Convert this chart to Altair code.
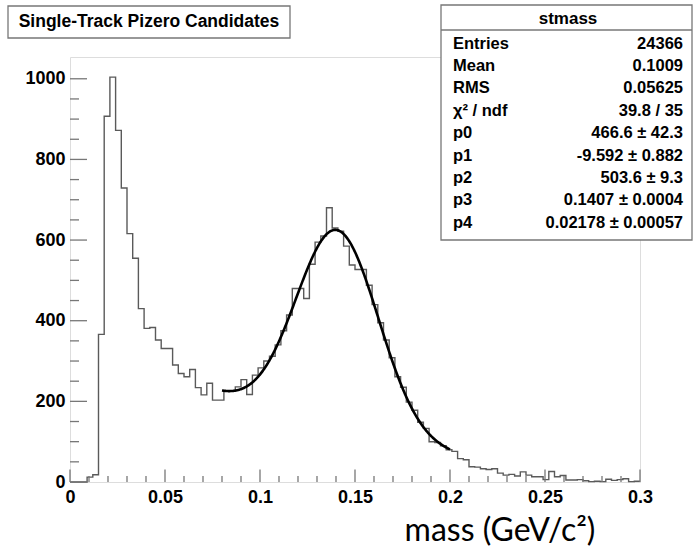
import altair as alt
import numpy as np
import pandas as pd

# ---------------- stmass histogram: 100 bins of 0.003 GeV/c^2 on [0, 0.3] ----------------
x_min, x_max, n_bins = 0.0, 0.3, 100
counts = [
    0, 0, 0, 12, 18, 366, 907, 1004, 872, 729,          # 0.000 - 0.030
    616, 555, 430, 381, 383, 352, 331, 331, 290, 269,   # 0.030 - 0.060
    261, 279, 234, 216, 245, 203, 203, 225, 226, 236,   # 0.060 - 0.090
    254, 217, 265, 283, 300, 312, 340, 375, 414, 480,   # 0.090 - 0.120
    480, 455, 540, 595, 610, 680, 630, 622, 585, 538,   # 0.120 - 0.150
    527, 527, 488, 440, 395, 352, 308, 261, 235, 198,   # 0.150 - 0.180
    178, 148, 133, 100, 98, 90, 80, 76, 58, 55,         # 0.180 - 0.210
    38, 37, 33, 31, 33, 22, 17, 19, 15, 25,             # 0.210 - 0.240
    17, 13, 13, 6, 26, 13, 16, 5, 5, 6,                 # 0.240 - 0.270
    3, 1, 2, 1, 7, 4, 6, 8, 1, 2,                       # 0.270 - 0.300
]

# ---------------- fit: expo(p0, p1) + gaus(p2, p3, p4) on [0.08, 0.2] ----------------
par_names = ["p0", "p1", "p2", "p3", "p4"]
par_values = [466.6, -9.592, 503.6, 0.1407, 0.02178]
par_errors = ["42.3", "0.882", "9.3", "0.0004", "0.00057"]
fit_range = [0.08, 0.2]

# ---------------- statistics box ----------------
stats_title = "stmass"
stat_names = ["Entries", "Mean", "RMS", "χ² / ndf"]
stat_values = ["24366", "0.1009", "0.05625", "39.8 / 35"]

plot_title = "Single-Track Pizero Candidates"
x_title = "mass (GeV/c²)"

x_labels = [0, 0.05, 0.1, 0.15, 0.2, 0.25, 0.3]
y_labels = [0, 200, 400, 600, 800, 1000]
y_top = 1054

# ---------------- layout ----------------
W, H = 570, 425
ROOT_FONT = "Liberation Sans"
FRAME = "#777777"

bin_width = (x_max - x_min) / n_bins
edges = x_min + bin_width * np.arange(n_bins + 1)
hist_df = pd.DataFrame({"mass": edges, "entries": counts + [counts[-1]]})

p0, p1, p2, p3, p4 = par_values
fit_x = np.linspace(fit_range[0], fit_range[1], 400)
fit_y = p0 * np.exp(p1 * fit_x) + p2 * np.exp(-0.5 * ((fit_x - p3) / p4) ** 2)
fit_df = pd.DataFrame({"mass": fit_x, "entries": fit_y})

x_scale = alt.Scale(domain=[x_min, x_max], nice=False, zero=False)
y_scale = alt.Scale(domain=[0, y_top], nice=False, zero=False)

label_style = dict(
    labelFont=ROOT_FONT, labelFontSize=18, labelFontWeight="bold",
    labelColor="black", labelFlush=False, labelOverlap=False,
    ticks=False, domain=False, grid=False, title=None,
)
x_axis = alt.Axis(values=x_labels, format="~g", labelPadding=6, **label_style)
y_axis = alt.Axis(values=y_labels, format="d", labelPadding=5, **label_style)

hist = alt.Chart(hist_df).mark_line(
    interpolate="step-after", color="#5a5a5a", strokeWidth=1.4
).encode(
    x=alt.X("mass:Q", scale=x_scale, axis=x_axis),
    y=alt.Y("entries:Q", scale=y_scale, axis=y_axis),
)

fit = alt.Chart(fit_df).mark_line(color="black", strokeWidth=2.6).encode(
    x=alt.X("mass:Q", scale=x_scale, axis=x_axis),
    y=alt.Y("entries:Q", scale=y_scale, axis=y_axis),
)

# inward tick marks (ROOT style)
x_major = x_labels
x_minor = [round(0.01 * i, 2) for i in range(31) if i % 5 != 0]
y_major = y_labels
y_minor = [50 * i for i in range(21) if i % 4 != 0]


def x_ticks(values, length):
    return alt.Chart(pd.DataFrame({"mass": values})).mark_rule(
        color=FRAME, strokeWidth=1.3
    ).encode(
        x=alt.X("mass:Q", scale=x_scale, axis=x_axis),
        y=alt.value(H), y2=alt.value(H - length),
    )


def y_ticks(values, length):
    return alt.Chart(pd.DataFrame({"entries": values})).mark_rule(
        color=FRAME, strokeWidth=1.3
    ).encode(
        y=alt.Y("entries:Q", scale=y_scale, axis=y_axis),
        x=alt.value(0), x2=alt.value(length),
    )


ticks = [x_ticks(x_major, 12.5), x_ticks(x_minor, 6), y_ticks(y_major, 17), y_ticks(y_minor, 9)]

one = pd.DataFrame({"k": [0]})


def text_at(txt, x, y, size, align, font=ROOT_FONT, weight="bold", baseline="middle"):
    return alt.Chart(pd.DataFrame({"t": [txt]})).mark_text(
        font=font, fontSize=size, fontWeight=weight, color="black",
        align=align, baseline=baseline,
    ).encode(x=alt.value(x), y=alt.value(y), text="t:N")


# title box
title_box = alt.Chart(one).mark_rect(
    fill="white", stroke=FRAME, strokeWidth=1.3
).encode(
    x=alt.value(-62), x2=alt.value(220), y=alt.value(-51), y2=alt.value(-19)
)
title_text = text_at(plot_title, 79, -35, 17.5, "center")

# statistics box
stats_box = alt.Chart(one).mark_rect(
    fill="white", stroke=FRAME, strokeWidth=1.3
).encode(
    x=alt.value(371), x2=alt.value(622), y=alt.value(-52), y2=alt.value(183)
)
stats_rule = alt.Chart(one).mark_rule(color=FRAME, strokeWidth=1.3).encode(
    x=alt.value(371), x2=alt.value(622), y=alt.value(-27)
)
stats_head = text_at(stats_title, 498, -38, 17, "center")

row_names = stat_names + par_names
row_vals = stat_values + [f"{v} ± {e}" for v, e in zip(par_values, par_errors)]
stats_rows = []
for i, (name, val) in enumerate(zip(row_names, row_vals)):
    y_row = -13.5 + 22.4 * i
    stats_rows.append(text_at(name, 383, y_row, 16.5, "left"))
    stats_rows.append(text_at(val, 613, y_row, 16.5, "right"))

# x-axis title
mass_title = text_at(x_title, 430, 484, 32, "center", font="Lato",
                     weight="normal", baseline="alphabetic")

chart = alt.layer(
    hist, fit, *ticks, title_box, title_text,
    stats_box, stats_rule, stats_head, *stats_rows, mass_title,
).properties(
    width=W, height=H,
    autosize=alt.AutoSizeParams(type="none"),
    padding={"left": 70, "top": 57, "right": 53, "bottom": 68},
).configure_view(
    stroke=FRAME, strokeWidth=1.5
).configure(background="white")

chart.save("out.html", embed_options={"renderer": "svg", "actions": False})
